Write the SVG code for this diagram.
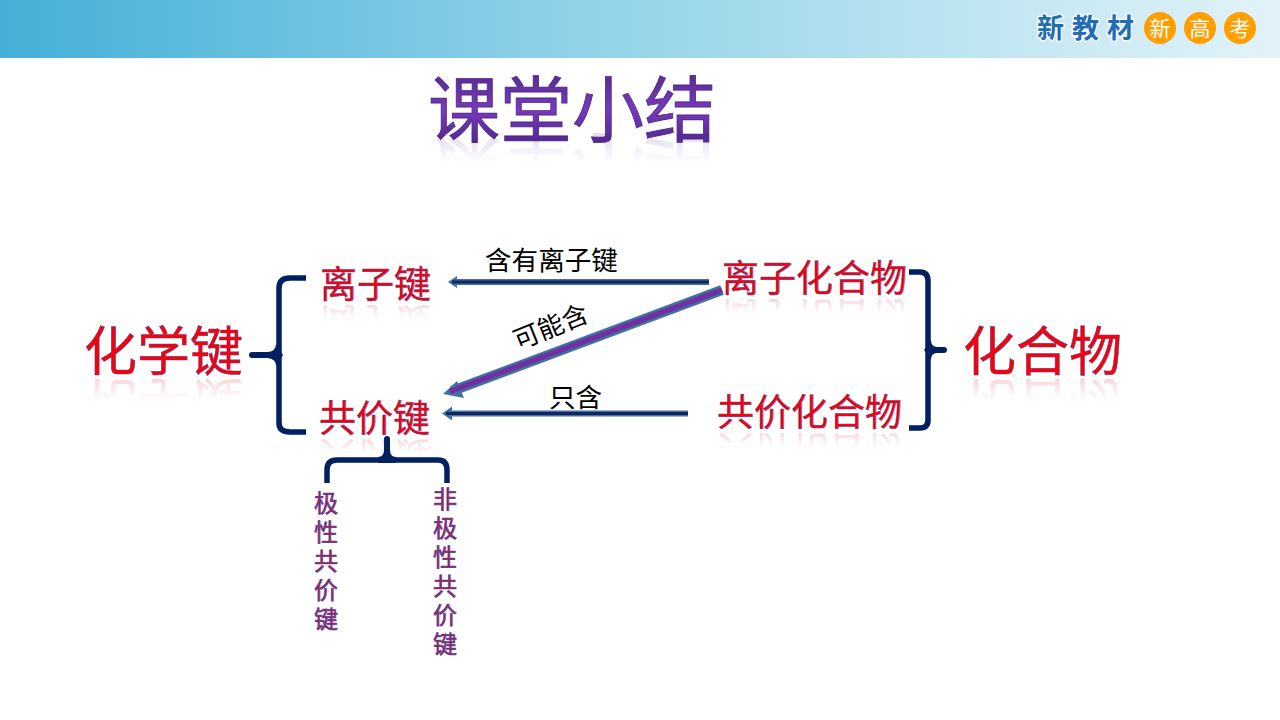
<svg xmlns="http://www.w3.org/2000/svg" xmlns:xlink="http://www.w3.org/1999/xlink" width="1280" height="720" viewBox="0 0 1280 720">
<style>
text{font-family:"Noto Sans CJK SC","Liberation Serif",serif}
.red{fill:#f80008;stroke:#5a3f8f;stroke-width:.55;font-weight:400}
.sm{font-size:37px}.lg{font-size:53px}
.v{font-size:24px;writing-mode:vertical-rl;letter-spacing:5px;fill:#a02060;stroke:#5a3f8f;stroke-width:.7}
.blk{fill:#000;font-size:26.600px;font-weight:400}
.br{fill:none;stroke:#002060;stroke-width:5.500;stroke-linecap:butt;stroke-linejoin:round}
.st{fill:none;stroke:#002060;stroke-width:6;stroke-linecap:round}
.fl{fill:#002060}
.lo{fill:none;stroke:#3f72a4;stroke-width:6}.li{fill:none;stroke:#12265c;stroke-width:3}
.ho{fill:#3f72a4}
.c{fill:#ffa000}.ct{fill:#fff;font-size:21px;text-anchor:middle}
</style>
<defs>
<linearGradient id="hdr"><stop offset="0" stop-color="#44afd7"/><stop offset=".45" stop-color="#90d2e8"/><stop offset="1" stop-color="#e2f3f9"/></linearGradient>
<linearGradient id="ttl" x1="0" y1="0" x2="0" y2="1"><stop offset="0" stop-color="#42267a"/><stop offset=".55" stop-color="#7a38bc"/><stop offset="1" stop-color="#43207c"/></linearGradient>
<linearGradient id="fg" x1="0" y1="0" x2="0" y2="1"><stop offset="0" stop-color="#fff" stop-opacity=".25"/><stop offset=".42" stop-color="#fff" stop-opacity="0"/></linearGradient>
<mask id="fade" maskContentUnits="objectBoundingBox" x="0" y="0" width="1" height="1"><rect width="1" height="1" fill="url(#fg)"/></mask>
</defs>
<rect width="1280" height="720" fill="#fff"/>
<rect id="header" width="1280" height="58" fill="url(#hdr)"/>
<g id="logo">
<text x="1037" y="38" font-size="27" font-weight="700" letter-spacing="8" fill="#1f6db5" stroke="#fff" stroke-width="2.500" paint-order="stroke">新教材</text>
<circle class="c" cx="1160" cy="28" r="16"/><circle class="c" cx="1200" cy="28" r="16"/><circle class="c" cx="1240" cy="28" r="16"/>
<text class="ct" x="1160" y="36">新</text><text class="ct" x="1200" y="36">高</text><text class="ct" x="1240" y="36">考</text>
</g>
<g id="title">
<text id="t0" x="428" y="136" font-size="72" font-weight="400" fill="url(#ttl)" stroke="#4b2a86" stroke-width=".8">课堂小结</text>
<g mask="url(#fade)"><use xlink:href="#t0" transform="translate(0,276) scale(1,-1)"/></g>
</g>
<g id="connectors">
<path class="br" d="M306 278H290Q279 278 279 288V423Q279 432 290 432H306"/>
<path class="st" d="M252 355H272"/>
<path class="fl" d="M276 344Q276 351 268 352V358Q276 359 276 366L283 355z"/>
<path class="br" d="M909 272H920Q928 272 928 281V420Q928 428 920 428H909"/>
<path class="st" d="M934 350H944"/>
<path class="fl" d="M931 340Q931 347 937 347V353Q931 353 931 360L924 350z"/>
<path class="br" d="M327 483V470Q327 460 337 460H438Q447 460 447 470V483"/>
<path class="st" d="M387 439V454"/>
<path class="fl" d="M378 457Q384 457 384 450H390Q390 457 396 457V463H378z"/>
<path class="lo" d="M709 282H456"/><path class="ho" d="M448 282l9-6v12z"/><path class="li" d="M709 282H452"/>
<path class="lo" d="M688 413.500H451"/><path class="ho" d="M442 413.500l10-7v14z"/><path class="li" d="M688 413.500H446"/>
<path d="M722 290L452 391" fill="none" stroke="#3f72a4" stroke-width="10"/><path d="M443 394l14-13 7 17z" fill="#3f72a4"/><path d="M722 290L450 391.500" fill="none" stroke="#7030a0" stroke-width="5.500"/>
</g>
<g id="n-huaxuejian"><text id="a1" class="red lg" x="84" y="371">化学键</text><g mask="url(#fade)"><use xlink:href="#a1" transform="translate(0,754) scale(1,-1)"/></g></g>
<g id="n-lizijian"><text id="a2" class="red sm" x="320" y="298">离子键</text><g mask="url(#fade)"><use xlink:href="#a2" transform="translate(0,606) scale(1,-1)"/></g></g>
<g id="n-gongjiajian"><text id="a3" class="red sm" x="319" y="432">共价键</text><g mask="url(#fade)"><use xlink:href="#a3" transform="translate(0,874) scale(1,-1)"/></g></g>
<g id="n-lizihuahewu"><text id="a4" class="red sm" x="722" y="292">离子化合物</text><g mask="url(#fade)"><use xlink:href="#a4" transform="translate(0,594) scale(1,-1)"/></g></g>
<g id="n-gongjiahuahewu"><text id="a5" class="red sm" x="717" y="426">共价化合物</text><g mask="url(#fade)"><use xlink:href="#a5" transform="translate(0,862) scale(1,-1)"/></g></g>
<g id="n-huahewu"><text id="a6" class="red lg" x="963" y="371">化合物</text><g mask="url(#fade)"><use xlink:href="#a6" transform="translate(0,754) scale(1,-1)"/></g></g>
<g id="n-jixing"><text class="v" x="326" y="491">极性共价键</text></g>
<g id="n-feijixing"><text class="v" x="445" y="487">非极性共价键</text></g>
<g id="labels">
<text class="blk" x="485" y="270">含有离子键</text>
<text class="blk" transform="translate(518,350) rotate(-22)" style="font-size:26px">可能含</text>
<text class="blk" x="549" y="407">只含</text>
</g>
</svg>
